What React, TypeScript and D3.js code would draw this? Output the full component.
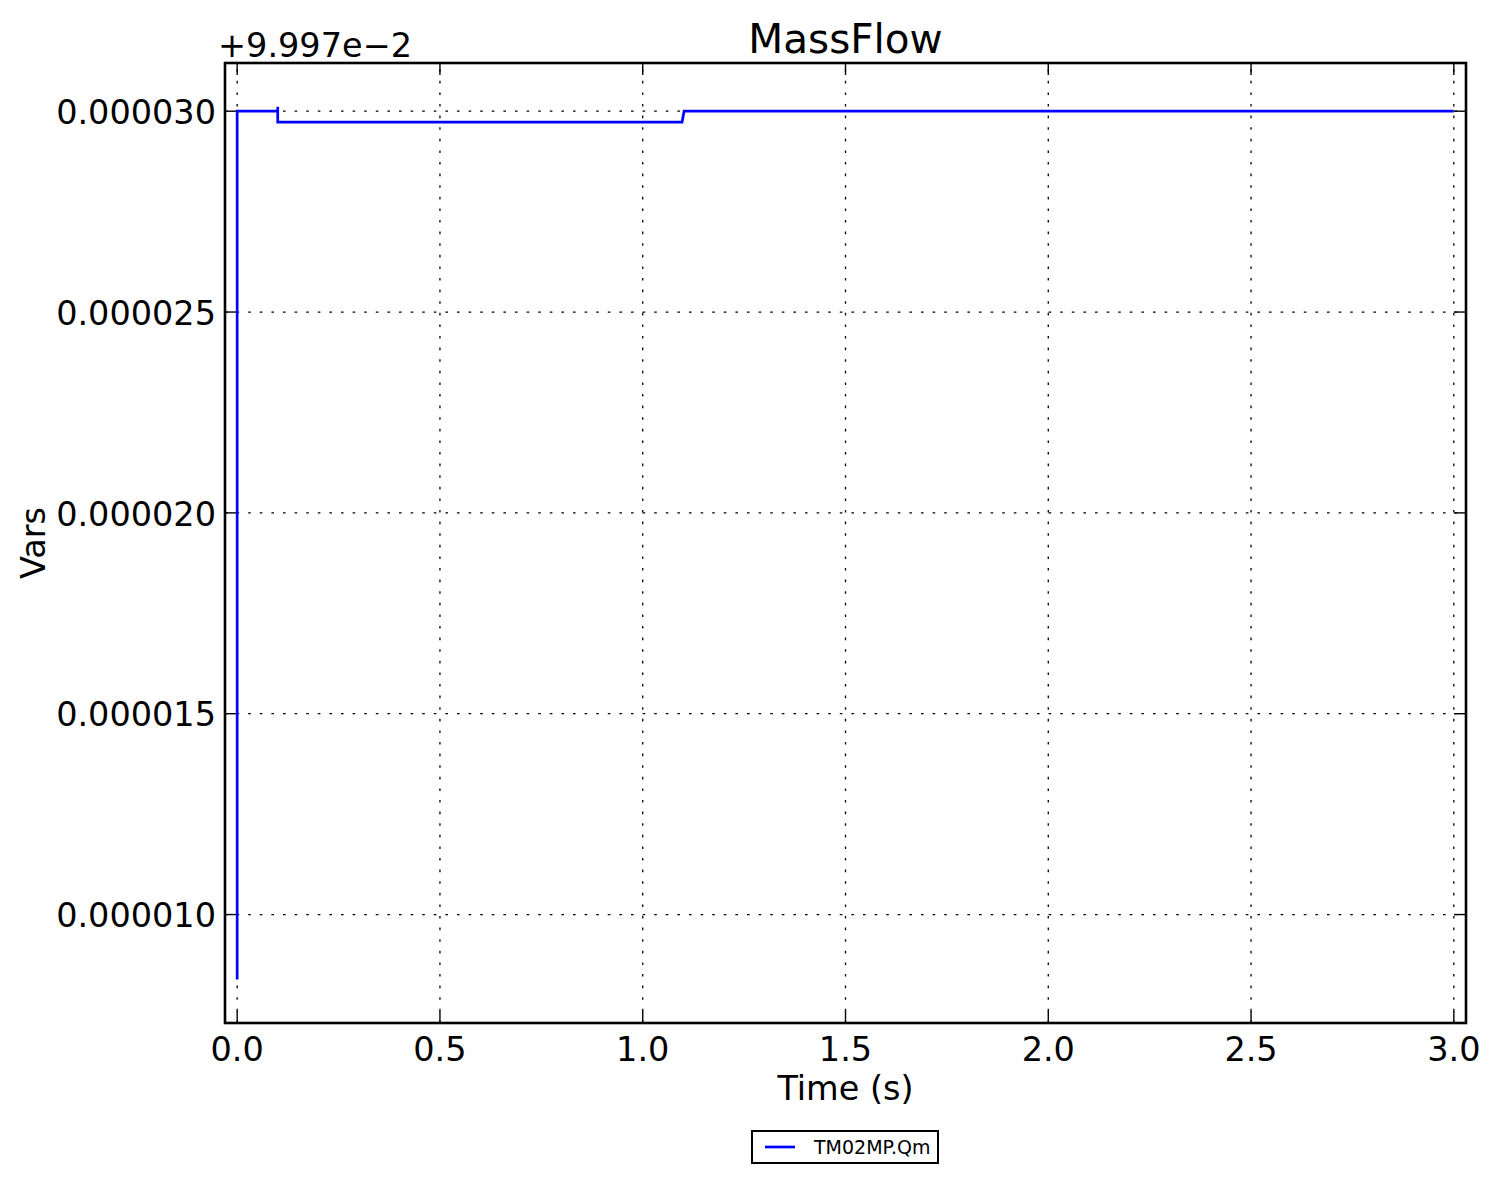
import React from "react";
import * as d3 from "d3";

const timeValues = [0, 0.0, 0.1, 0.1, 0.1, 1.097, 1.102, 3.0];
const flowOffsets = [8.38e-6, 30.0e-6, 30.0e-6, 30.11e-6, 29.73e-6, 29.73e-6, 30.0e-6, 30.0e-6];
const xTicks = [0, 0.5, 1.0, 1.5, 2.0, 2.5, 3.0];
const xTickLabels = ["0.0", "0.5", "1.0", "1.5", "2.0", "2.5", "3.0"];
const yTicks = [10e-6, 15e-6, 20e-6, 25e-6, 30e-6];
const yTickLabels = ["0.000010", "0.000015", "0.000020", "0.000025", "0.000030"];
const offsetText = "+9.997e\u22122";
const seriesName = "TM02MP.Qm";

const W = 1497;
const H = 1183;
const L = 225, R = 1466, T = 63, B = 1023;
const FONT = "DejaVu Sans";

export default function App() {
  const x = d3.scaleLinear().domain([-0.03, 3.03]).range([L, R]);
  const y = d3.scaleLinear().domain([7.3e-6, 31.2e-6]).range([B, T]);
  const pts: [number, number][] = timeValues.map((t, i) => [t, flowOffsets[i]]);
  const line = d3.line<[number, number]>().x(d => x(d[0])).y(d => y(d[1]));
  const tickLen = 12;
  const grid = { stroke: "#000", strokeWidth: 1.3, strokeDasharray: "2.6,9" };
  return (
    <svg width={W} height={H} style={{ position: "absolute", left: 0, top: 0, background: "#fff" }} fontFamily={FONT}>
      <rect x={0} y={0} width={W} height={H} fill="#fff" />
      {xTicks.map((t, i) => (
        <line key={"gx" + i} x1={x(t)} x2={x(t)} y1={B} y2={T} {...grid} />
      ))}
      {yTicks.map((v, i) => (
        <line key={"gy" + i} x1={L} x2={R} y1={y(v)} y2={y(v)} {...grid} />
      ))}
      {xTicks.map((t, i) => (
        <g key={"tx" + i} stroke="#000" strokeWidth={1.4}>
          <line x1={x(t)} x2={x(t)} y1={B} y2={B - tickLen} />
          <line x1={x(t)} x2={x(t)} y1={T} y2={T + tickLen} />
        </g>
      ))}
      {yTicks.map((v, i) => (
        <g key={"ty" + i} stroke="#000" strokeWidth={1.4}>
          <line x1={L} x2={L + tickLen} y1={y(v)} y2={y(v)} />
          <line x1={R} x2={R - tickLen} y1={y(v)} y2={y(v)} />
        </g>
      ))}
      <path d={line(pts) || ""} fill="none" stroke="#0000ff" strokeWidth={2.7} strokeLinejoin="miter" />
      <rect x={L} y={T} width={R - L} height={B - T} fill="none" stroke="#000" strokeWidth={2.6} />
      {xTicks.map((t, i) => (
        <text key={"lx" + i} x={x(t)} y={1061} textAnchor="middle" fontSize={33.5}>{xTickLabels[i]}</text>
      ))}
      {yTicks.map((v, i) => (
        <text key={"ly" + i} x={216} y={y(v)} dy="0.38em" textAnchor="end" fontSize={33.5}>{yTickLabels[i]}</text>
      ))}
      <text x={218} y={57} fontSize={33.5}>{offsetText}</text>
      <text x={(L + R) / 2} y={53} textAnchor="middle" fontSize={40.5}>MassFlow</text>
      <text x={(L + R) / 2} y={1100} textAnchor="middle" fontSize={33.5}>Time (s)</text>
      <text transform={`translate(45,${(T + B) / 2}) rotate(-90)`} textAnchor="middle" fontSize={33.5}>Vars</text>
      <rect x={752} y={1131} width={186} height={32} fill="#fff" stroke="#000" strokeWidth={2} />
      <line x1={765} x2={795} y1={1147} y2={1147} stroke="#0000ff" strokeWidth={2.7} />
      <text x={814} y={1154} fontSize={19}>{seriesName}</text>
    </svg>
  );
}
